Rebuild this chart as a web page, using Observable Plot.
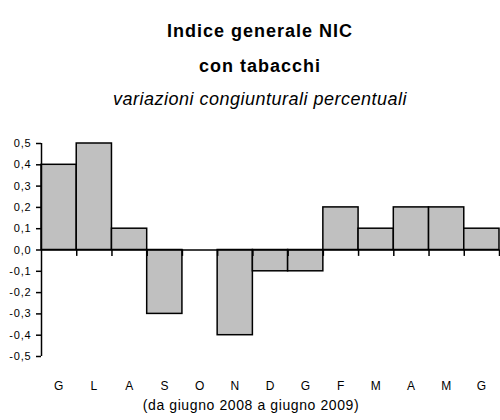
<!DOCTYPE html>
<html><head><meta charset="utf-8">
<script src="https://cdn.jsdelivr.net/npm/d3@7"></script>
<script src="https://cdn.jsdelivr.net/npm/@observablehq/plot@0.6"></script>
<style>
body{margin:0;background:#fff;}
#wrap{position:relative;width:500px;height:420px;font-family:"Liberation Sans",Arial,sans-serif;}
.t{position:absolute;left:10px;width:500px;text-align:center;color:#000;white-space:nowrap;}
#chart{position:absolute;left:0;top:0;}
</style></head>
<body><div id="wrap">
<div id="chart"></div>
<div class="t" style="top:21px;font-size:18px;font-weight:bold;letter-spacing:1px;">Indice generale NIC</div>
<div class="t" style="top:56px;font-size:18px;font-weight:bold;letter-spacing:1px;">con tabacchi</div>
<div class="t" style="top:89px;font-size:18px;font-style:italic;letter-spacing:0.5px;">variazioni congiunturali percentuali</div>
<div class="t" style="left:1px;top:397px;font-size:14px;letter-spacing:0.6px;">(da giugno 2008 a giugno 2009)</div>
</div>
<script>
const months = ["G","L","A","S","O","N","D","G","F","M","A","M","G"];
const values = [0.4, 0.5, 0.1, -0.3, 0.0, -0.4, -0.1, -0.1, 0.2, 0.1, 0.2, 0.2, 0.1];
const yTicks = [-0.5,-0.4,-0.3,-0.2,-0.1,0,0.1,0.2,0.3,0.4,0.5];

const data = months.map((m, i) => ({i, m, v: values[i]}));

const plot = Plot.plot({
  width: 500, height: 420,
  marginTop: 143, marginBottom: 64, marginLeft: 41, marginRight: 1,
  style: {fontFamily: '"Liberation Sans",Arial,sans-serif', fontSize: "11px", color: "#000", background: "transparent", letterSpacing: "0.8px"},
  x: {type: "linear", domain: [-0.5, months.length - 0.5], axis: null},
  y: {domain: [-0.5, 0.5], axis: null},
  marks: [
    Plot.rectY(data, {x1: d => d.i - 0.5, x2: d => d.i + 0.5, y1: 0, y2: "v", fill: "#c0c0c0", stroke: "#000", strokeWidth: 1.5}),
    Plot.ruleY([0], {stroke: "#000", strokeWidth: 1.5}),
    Plot.ruleX(data, {x: d => d.i + 0.5, y1: 0, y2: -0.03, stroke: "#000", strokeWidth: 1.5}),
    Plot.ruleX([-0.5], {y1: -0.5, y2: 0.5, stroke: "#000", strokeWidth: 1.5}),
    Plot.axisY(yTicks, {anchor: "left", label: null, tickSize: 5, tickPadding: 5, tickFormat: d => d.toFixed(1).replace(".", ","), fontSize: 11, strokeWidth: 1.5}),
    Plot.axisX(data.map(d => d.i), {anchor: "bottom", label: null, tickSize: 0, tickPadding: 25, tickFormat: i => months[i], fontSize: 12})
  ]
});
document.getElementById("chart").appendChild(plot);
</script>
</body></html>
